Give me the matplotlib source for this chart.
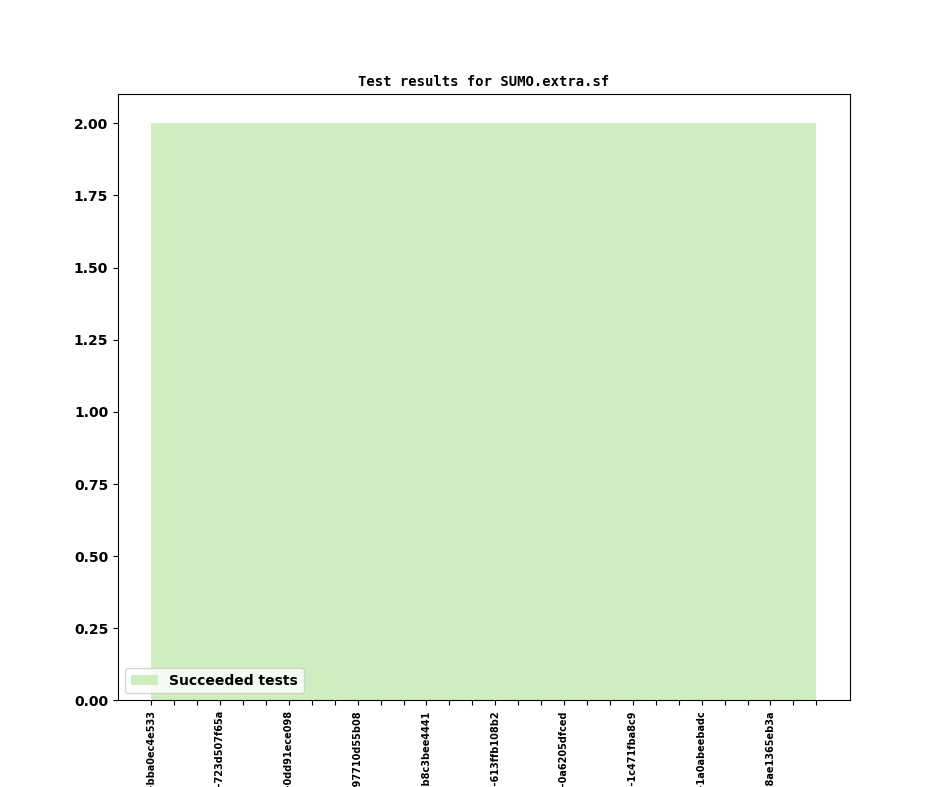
import matplotlib
matplotlib.use("Agg")
import matplotlib.pyplot as plt
import numpy as np

# commit ids, only every third one gets a label
commits = [
    "v1_3_1+0412-bba0ec4e533", "", "",
    "v1_3_1+0420-723d507f65a", "", "",
    "v1_3_1+0433-0dd91ece098", "", "",
    "v1_3_1+0448-97710d55b08", "", "",
    "v1_3_1+0459-b8c3bee4441", "", "",
    "v1_3_1+0467-613ffb108b2", "", "",
    "v1_3_1+0481-0a6205dfced", "", "",
    "v1_3_1+0496-1c471fba8c9", "", "",
    "v1_3_1+0502-1a0abeebadc", "", "",
    "v1_3_1+0517-8ae1365eb3a", "", "",
]
succeeded = [2] * 30

fig, ax = plt.subplots(figsize=(9.44, 7.87), dpi=100)
x = np.arange(len(succeeded))
ax.stackplot(x, succeeded, colors=["#cfedbf"], labels=["Succeeded tests"])

ax.set_xticks(x)
ax.set_xticklabels(commits, rotation=90, fontsize=7, fontweight="bold")
for lbl in ax.get_yticklabels():
    lbl.set_fontweight("bold")
ax.set_ylim(0, 2.1)
ax.set_title("Test results for SUMO.extra.sf", fontsize=10,
             fontweight="bold", family="DejaVu Sans Mono")
leg = ax.legend(loc="lower left", prop={"weight": "bold", "size": 10})

plt.savefig("out.png", dpi=100)
